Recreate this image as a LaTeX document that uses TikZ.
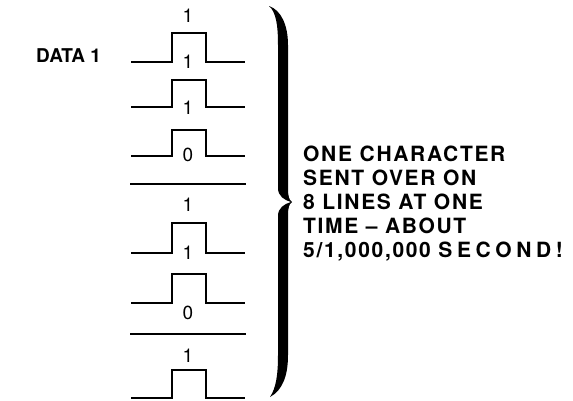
\documentclass[tikz,border=0pt]{standalone}
\usepackage{fontspec}
\setmainfont{TeX Gyre Heros}
\newfontfamily\wide[LetterSpace=8]{TeX Gyre Heros}
\newfontfamily\wider[LetterSpace=22]{TeX Gyre Heros}

\begin{document}
\begin{tikzpicture}[x=1pt,y=-1pt,
  wave/.style={line width=2pt, line join=miter},
  bit/.style={font=\fontsize{19}{19}\selectfont, inner sep=0pt}]
\useasboundingbox (0,0) rectangle (573,400);

\node[anchor=west, inner sep=0pt, font=\bfseries\fontsize{19}{19}\selectfont] (data) at (36,56) {DATA 1};

% the eight lines, one bit each
\draw[wave] (131,62) -- (172,62) -- (172,33) -- (206,33) -- (206,62) -- (245,62);
\draw[wave] (131,107) -- (172,107) -- (172,80) -- (206,80) -- (206,107) -- (245,107);
\draw[wave] (131,156) -- (172,156) -- (172,130) -- (206,130) -- (206,156) -- (245,156);
\draw[wave] (130,184) -- (246,184);
\draw[wave] (131,253) -- (172,253) -- (172,223) -- (206,223) -- (206,253) -- (245,253);
\draw[wave] (131,303) -- (172,303) -- (172,274) -- (206,274) -- (206,303) -- (245,303);
\draw[wave] (130,334) -- (246,334);
\draw[wave] (131,398) -- (172,398) -- (172,370) -- (206,370) -- (206,398) -- (245,398);

\node[bit] (b1) at (188,16) {1};
\node[bit] (b2) at (188,62) {1};
\node[bit] (b3) at (188,108) {1};
\node[bit] (b4) at (188,155) {0};
\node[bit] (b5) at (188,205) {1};
\node[bit] (b6) at (188,253) {1};
\node[bit] (b7) at (188,313) {0};
\node[bit] (b8) at (188,356) {1};

% big brace
\fill (269,6) .. controls (276,12) and (278,25) .. (278,45) -- (278,188)
  .. controls (278,196) and (284,200) .. (291,202)
  .. controls (284,204) and (278,208) .. (278,216) -- (278,355)
  .. controls (278,375) and (276,388) .. (270,397)
  .. controls (283,390) and (288,375) .. (288,355) -- (288,216)
  .. controls (288,208) and (289,204) .. (292,202)
  .. controls (289,200) and (288,196) .. (288,188) -- (288,45)
  .. controls (288,25) and (281,10) .. (269,6) -- cycle;

\node[anchor=north west, align=left, inner sep=0pt,
  font=\wide\bfseries\fontsize{21}{24}\selectfont] (note) at (303,146)
  {ONE CHARACTER\\SENT OVER ON\\8 LINES AT ONE\\TIME – ABOUT\\5/1,000,000 {\wider\bfseries SECOND!}};
\end{tikzpicture}
\end{document}
